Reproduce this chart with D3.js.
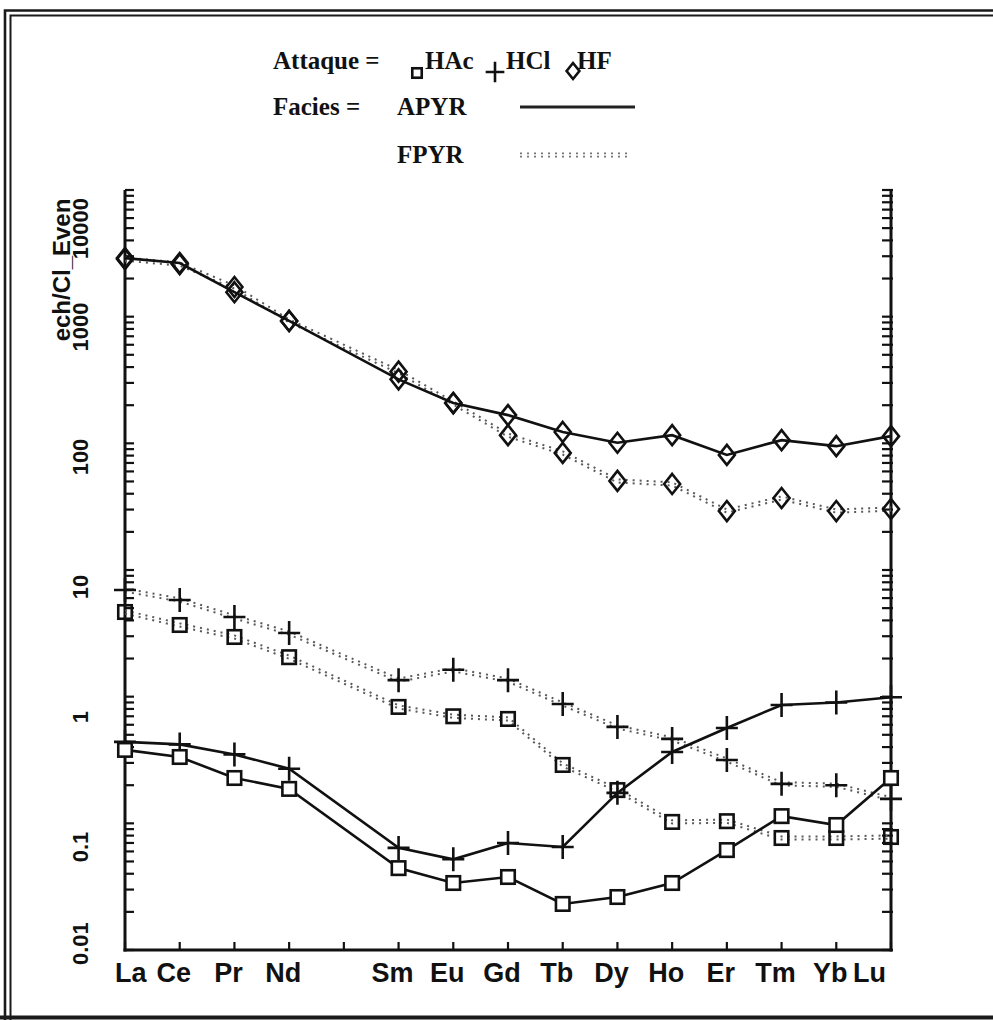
<!DOCTYPE html>
<html>
<head>
<meta charset="utf-8">
<script src="https://cdn.jsdelivr.net/npm/d3@7/dist/d3.min.js"></script>
<style>
  html, body { margin: 0; padding: 0; background: #fff; }
  svg { display: block; }
</style>
</head>
<body>
<svg id="chart" width="993" height="1020"></svg>
<script>
// ---------- data ----------
const axisElements = ["La","Ce","Pr","Nd","Pm","Sm","Eu","Gd","Tb","Dy","Ho","Er","Tm","Yb","Lu"];
const axisLabels   = ["La","Ce","Pr","Nd","","Sm","Eu","Gd","Tb","Dy","Ho","Er","Tm","Yb","Lu"];
const ree = ["La","Ce","Pr","Nd","Sm","Eu","Gd","Tb","Dy","Ho","Er","Tm","Yb","Lu"];

const apyrHAc = [0.38, 0.334, 0.228, 0.187, 0.0443, 0.0338, 0.0377, 0.0231, 0.0262, 0.0338, 0.0615, 0.114, 0.097, 0.228];
const apyrHCl = [0.44, 0.42, 0.35, 0.27, 0.064, 0.052, 0.070, 0.065, 0.174, 0.366, 0.566, 0.86, 0.90, 0.99];
const apyrHF  = [2900, 2650, 1560, 925, 320, 208, 167, 123, 101, 116, 81, 106, 95, 114];
const fpyrHAc = [4.66, 3.68, 2.96, 2.05, 0.83, 0.70, 0.667, 0.289, 0.183, 0.1026, 0.104, 0.0766, 0.0766, 0.078];
const fpyrHCl = [6.95, 5.8, 4.26, 3.18, 1.35, 1.63, 1.35, 0.875, 0.577, 0.464, 0.316, 0.205, 0.20, 0.156];
const fpyrHF  = [2850, 2600, 1714, 925, 368, 208, 116, 84, 50.5, 47.8, 29.2, 37, 29.2, 30.3];

const yTickValues = [0.01, 0.1, 1, 10, 100, 1000, 10000];
const yTickLabels = ["0.01", "0.1", "1", "10", "100", "1000", "10000"];
const yTitle = "ech/Cl_Even";

const legendAttaque = ["HAc", "HCl", "HF"];
const legendFacies = ["APYR", "FPYR"];

// ---------- layout ----------
const svg = d3.select("#chart");
const L = 125, R = 891, T = 190, B = 950;
const x = d3.scalePoint().domain(axisElements).range([L, R]).padding(0);
const y = d3.scaleLog().domain([0.01, 10000]).range([B, T]);
// tick labels of the scanned original sit on a slightly stretched scale
const yLab = d3.scaleLog().domain([0.01, 10000]).range([977, 197]);

svg.append("rect").attr("width", 993).attr("height", 1020).attr("fill", "#fff");

// frame (double border)
const frame = svg.append("g").attr("stroke", "#1a1a1a").attr("fill", "none");
frame.append("path").attr("d", "M5,1020 V10.5 H993").attr("stroke-width", 2.6);
frame.append("path").attr("d", "M10.5,1020 V15.5 H993").attr("stroke-width", 2);
frame.append("line").attr("x1", 0).attr("x2", 993).attr("y1", 1017.5).attr("y2", 1017.5).attr("stroke-width", 4);

// axes
const ax = svg.append("g").attr("stroke", "#111").attr("fill", "none");
ax.append("line").attr("x1", L).attr("x2", L).attr("y1", T).attr("y2", B + 1.5).attr("stroke-width", 3);
ax.append("line").attr("x1", R).attr("x2", R).attr("y1", T).attr("y2", B + 1.5).attr("stroke-width", 3);
ax.append("line").attr("x1", L - 1.5).attr("x2", R + 1.5).attr("y1", B).attr("y2", B).attr("stroke-width", 3);

// log minor ticks on both vertical axes
const minor = [];
for (let e = -2; e < 4; e++) for (let m = 1; m <= 9; m++) minor.push(m * Math.pow(10, e));
minor.push(10000);
ax.selectAll(".tl").data(minor).join("line")
  .attr("x1", L).attr("x2", L + 9)
  .attr("y1", d => y(d)).attr("y2", d => y(d)).attr("stroke-width", 2.2);
ax.selectAll(".tr").data(minor).join("line")
  .attr("x1", R - 9).attr("x2", R + 2)
  .attr("y1", d => y(d)).attr("y2", d => y(d)).attr("stroke-width", 2.2);
// x ticks
ax.selectAll(".tx").data(axisElements).join("line")
  .attr("x1", d => x(d)).attr("x2", d => x(d))
  .attr("y1", B).attr("y2", B - 8).attr("stroke-width", 2.2);

// x labels
const xl = svg.append("g").attr("font-family", "'Liberation Sans', Arial, sans-serif")
  .attr("font-weight", "bold").attr("font-size", 27).attr("fill", "#111");
axisElements.forEach((el, i) => {
  if (!axisLabels[i]) return;
  const t = xl.append("text").attr("text-anchor", "middle").attr("y", 982).text(axisLabels[i]);
  const w = t.node().getComputedTextLength();
  let cx = x(el) - 6;
  cx = Math.max(cx, 115 + w / 2);
  cx = Math.min(cx, 886 - w / 2);
  t.attr("x", cx);
});

// y labels (rotated)
const yl = svg.append("g").attr("font-family", "'Liberation Sans', Arial, sans-serif")
  .attr("font-weight", "bold").attr("font-size", 22).attr("fill", "#111");
yTickValues.forEach((v, i) => {
  const t = yl.append("text").attr("text-anchor", "middle").text(yTickLabels[i]);
  const w = t.node().getComputedTextLength();
  let cy = yLab(v);
  cy = Math.max(cy, 198 + w / 2);
  cy = Math.min(cy, 965 - w / 2);
  t.attr("transform", `translate(88,${cy}) rotate(-90)`);
});
yl.append("text").attr("text-anchor", "middle").attr("font-size", 24)
  .attr("transform", "translate(70,270) rotate(-90)").text(yTitle);

// ---------- series ----------
const series = [
  {vals: fpyrHF, marker: "diamond", dotted: true},
  {vals: fpyrHCl, marker: "plus", dotted: true},
  {vals: fpyrHAc, marker: "square", dotted: true},
  {vals: apyrHF, marker: "diamond", dotted: false},
  {vals: apyrHCl, marker: "plus", dotted: false},
  {vals: apyrHAc, marker: "square", dotted: false}
];

const line = d3.line().x(d => x(d.el)).y(d => y(d.v));
const plot = svg.append("g");

function drawMarker(g, kind, px, py, filled, scale) {
  const s = scale || 1;
  if (kind === "square") {
    const a = 13.5 * s;
    g.append("rect").attr("x", px - a / 2).attr("y", py - a / 2).attr("width", a).attr("height", a)
      .attr("fill", filled ? "#fff" : "none").attr("stroke", "#111").attr("stroke-width", 2.6);
  } else if (kind === "plus") {
    const hw = 11 * s, hh = 12 * s;
    g.append("path").attr("d", `M${px - hw},${py} H${px + hw} M${px},${py - hh} V${py + hh}`)
      .attr("fill", "none").attr("stroke", "#111").attr("stroke-width", 2.6);
  } else {
    const hw = 8 * s, hh = 10 * s;
    g.append("path").attr("d", `M${px},${py - hh} L${px + hw},${py} L${px},${py + hh} L${px - hw},${py} Z`)
      .attr("fill", "none").attr("stroke", "#111").attr("stroke-width", 2.6);
  }
}

series.forEach(s => {
  const pts = ree.map((el, i) => ({el, v: s.vals[i]}));
  if (s.dotted) {
    [-1.6, 1.6].forEach(off => {
      plot.append("path").datum(pts).attr("d", line)
        .attr("transform", `translate(0,${off})`)
        .attr("fill", "none").attr("stroke", "#5a5a5a").attr("stroke-width", 2)
        .attr("stroke-dasharray", "2 5");
    });
  } else {
    plot.append("path").datum(pts).attr("d", line)
      .attr("fill", "none").attr("stroke", "#111").attr("stroke-width", 2.6);
  }
  const mg = plot.append("g");
  pts.forEach(p => drawMarker(mg, s.marker, x(p.el), y(p.v), !s.dotted && s.marker === "square"));
});

// ---------- legend ----------
const lg = svg.append("g").attr("font-family", "'Liberation Serif', 'Times New Roman', serif")
  .attr("font-weight", "bold").attr("font-size", 25).attr("fill", "#111");
lg.append("text").attr("x", 273).attr("y", 69).text("Attaque =");
const legX = [425, 506, 577];
const legMkX = [417, 495, 573];
legendAttaque.forEach((name, i) => {
  lg.append("text").attr("x", legX[i]).attr("y", 69).text(name);
});
drawMarker(lg, "square", legMkX[0], 73, false, 0.7);
drawMarker(lg, "plus", legMkX[1], 72, false, 0.85);
drawMarker(lg, "diamond", legMkX[2], 71, false, 0.8);

lg.append("text").attr("x", 273).attr("y", 115).text("Facies =");
lg.append("text").attr("x", 397).attr("y", 115).text(legendFacies[0]);
lg.append("text").attr("x", 397).attr("y", 163).text(legendFacies[1]);
lg.append("line").attr("x1", 520).attr("x2", 635).attr("y1", 107).attr("y2", 107)
  .attr("stroke", "#222").attr("stroke-width", 3);
[-1.6, 1.6].forEach(off => {
  lg.append("line").attr("x1", 520).attr("x2", 632).attr("y1", 155 + off).attr("y2", 155 + off)
    .attr("stroke", "#777").attr("stroke-width", 1.8).attr("stroke-dasharray", "2 5");
});
</script>
</body>
</html>
